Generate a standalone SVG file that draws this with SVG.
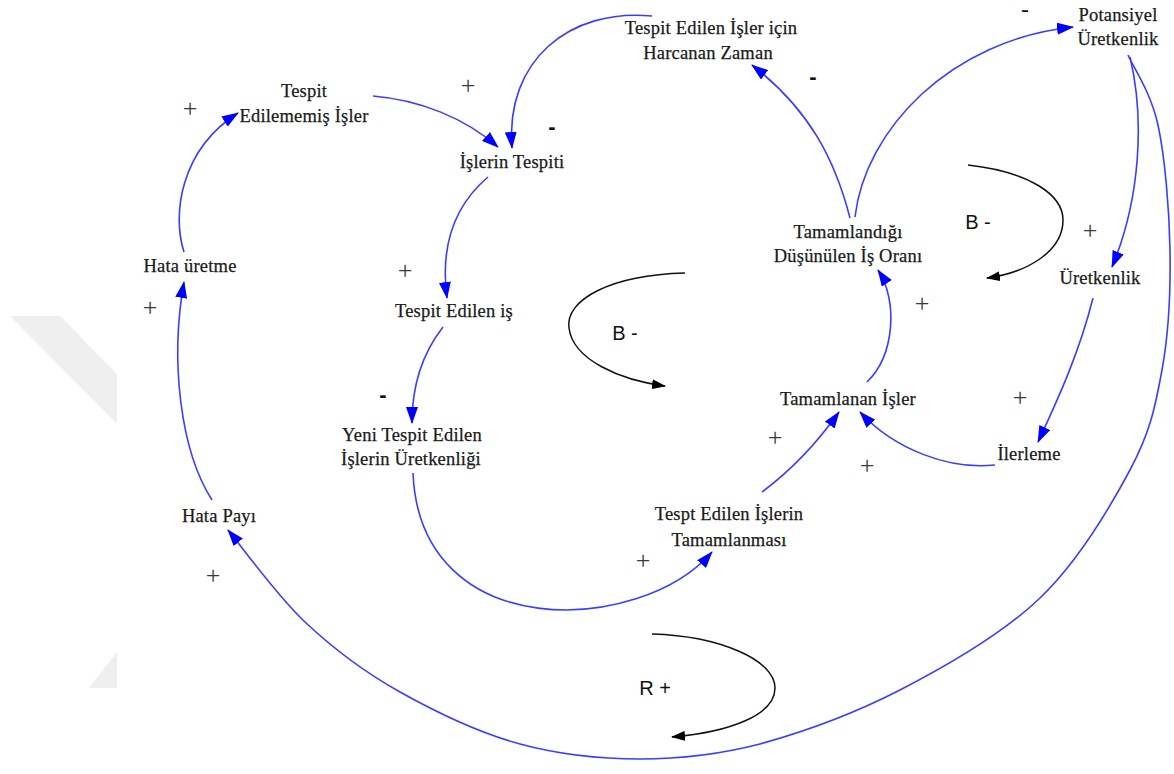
<svg xmlns="http://www.w3.org/2000/svg" width="1174" height="774" viewBox="0 0 1174 774">
<style>
.n{font-family:"Liberation Serif","Times New Roman",serif;font-size:18.5px;fill:#1a1a1a;stroke:#1a1a1a;stroke-width:0.25px;text-anchor:middle;letter-spacing:0.2px}
.p{font-family:"Liberation Serif",serif;font-size:26px;fill:#3a3a3a;text-anchor:middle}
.m{font-family:"Liberation Sans",Arial,sans-serif;font-size:22px;font-weight:bold;fill:#111;text-anchor:middle}
.l{font-family:"Liberation Sans",Arial,sans-serif;font-size:20px;fill:#111;text-anchor:middle}
.c{fill:none;stroke:#3c3cff;stroke-width:1.6;marker-end:url(#ab)}
.k{fill:none;stroke:#111;stroke-width:1.5;marker-end:url(#ak)}
</style>
<defs>
<marker id="ab" viewBox="0 0 17 12" refX="16" refY="6" markerWidth="17" markerHeight="12" orient="auto" markerUnits="userSpaceOnUse"><path d="M0,0 L17,6 L0,12 z" fill="#0000ff"/></marker>
<marker id="ak" viewBox="0 0 14 10" refX="13" refY="5" markerWidth="14" markerHeight="10" orient="auto" markerUnits="userSpaceOnUse"><path d="M0,0 L14,5 L0,10 z" fill="#000"/></marker>
</defs>
<rect width="1174" height="774" fill="#fff"/>
<g id="watermark" fill="#efefef">
<polygon points="10,316 60,316 117,374 117,424"/>
<polygon points="117,652 117,688 89,688"/>
</g>
<g id="connectors">
<path class="c" d="M184,252 C172,215 180,150 238,113"/>
<path class="c" d="M373,96 C420,100 465,118 498,147"/>
<path class="c" d="M652,16 C570,8 505,60 512,148"/>
<path class="c" d="M488,177 C455,205 440,245 447,298"/>
<path class="c" d="M443,327 C425,350 412,380 412,423"/>
<path class="c" d="M413,473 C420,645 640,635 712,552"/>
<path class="c" d="M762,492 Q805,460 839,412"/>
<path class="c" d="M995,465 C950,470 895,450 860,412"/>
<path class="c" d="M867,382 C895,355 898,300 878,270"/>
<path class="c" d="M850,218 C835,160 810,110 752,65"/>
<path class="c" d="M855,217 C865,130 950,40 1073,27"/>
<path class="c" d="M1130,57 C1145,120 1140,200 1112,267"/>
<path class="c" d="M1093,298 C1080,350 1060,395 1038,442"/>
<path class="c" d="M212,500 C180,450 170,360 184,282"/>
<path class="c" d="M1128,55 C1133,66.7 1151,92.5 1158,125 C1165,157.5 1169.3,209.2 1170,250 C1170.7,290.8 1168.7,333.3 1162,370 C1155.3,406.7 1150.3,432 1130,470 C1109.7,508 1078.3,561.3 1040,598 C1001.7,634.7 946.7,666 900,690 C853.3,714 803.3,732 760,744 C716.7,755.2 680,759 640,759 C600,759 560,754.8 520,744 C480,733.2 435.8,712 400,692 C364.2,672 333.7,649 305,622 C276.3,595 240.8,545.3 228,530"/>
</g>
<g id="loops">
<path class="k" d="M685,273 C610,275 565,300 569,328 C573,360 620,380 665,386"/>
<path class="k" d="M968,165 C1030,172 1063,195 1063,220 C1063,250 1030,272 987,278"/>
<path class="k" d="M652,634 C720,636 775,660 775,688 C775,715 730,732 672,737"/>
<text class="l" x="625" y="340">B -</text>
<text class="l" x="978" y="229">B -</text>
<text class="l" x="655" y="695">R +</text>
</g>
<g id="polarities">
<text class="p" x="190" y="117">+</text>
<text class="p" x="468" y="94">+</text>
<text class="m" x="552" y="134">-</text>
<text class="p" x="405" y="279">+</text>
<text class="p" x="150" y="316">+</text>
<text class="m" x="383" y="402">-</text>
<text class="m" x="813" y="84">-</text>
<text class="m" x="1025" y="15" style="font-size:15px" textLength="8" lengthAdjust="spacingAndGlyphs">-</text>
<text class="p" x="1090" y="239">+</text>
<text class="p" x="922" y="312">+</text>
<text class="p" x="775" y="446">+</text>
<text class="p" x="1020" y="406">+</text>
<text class="p" x="867" y="474">+</text>
<text class="p" x="643" y="569">+</text>
<text class="p" x="213" y="584">+</text>
</g>
<g id="n-tespit-edilememis"><text class="n" x="304" y="97">Tespit</text><text class="n" x="304" y="122">Edilememiş İşler</text></g>
<g id="n-islerin-tespiti"><text class="n" x="512" y="168">İşlerin Tespiti</text></g>
<g id="n-harcanan-zaman"><text class="n" x="711" y="34">Tespit Edilen İşler için</text><text class="n" x="708" y="59">Harcanan Zaman</text></g>
<g id="n-potansiyel"><text class="n" x="1118" y="21">Potansiyel</text><text class="n" x="1118" y="45">Üretkenlik</text></g>
<g id="n-hata-uretme"><text class="n" x="190" y="272">Hata üretme</text></g>
<g id="n-tespit-edilen-is"><text class="n" x="454" y="317">Tespit Edilen iş</text></g>
<g id="n-oran"><text class="n" x="848" y="238">Tamamlandığı</text><text class="n" x="848" y="262">Düşünülen İş Oranı</text></g>
<g id="n-uretkenlik"><text class="n" x="1100" y="284">Üretkenlik</text></g>
<g id="n-yeni"><text class="n" x="412" y="441">Yeni Tespit Edilen</text><text class="n" x="411" y="465">İşlerin Üretkenliği</text></g>
<g id="n-tamamlanan"><text class="n" x="848" y="405">Tamamlanan İşler</text></g>
<g id="n-ilerleme"><text class="n" x="1029" y="460">İlerleme</text></g>
<g id="n-hata-payi"><text class="n" x="219" y="522">Hata Payı</text></g>
<g id="n-tamamlanmasi"><text class="n" x="729" y="520">Tespt Edilen İşlerin</text><text class="n" x="729" y="546">Tamamlanması</text></g>
</svg>
